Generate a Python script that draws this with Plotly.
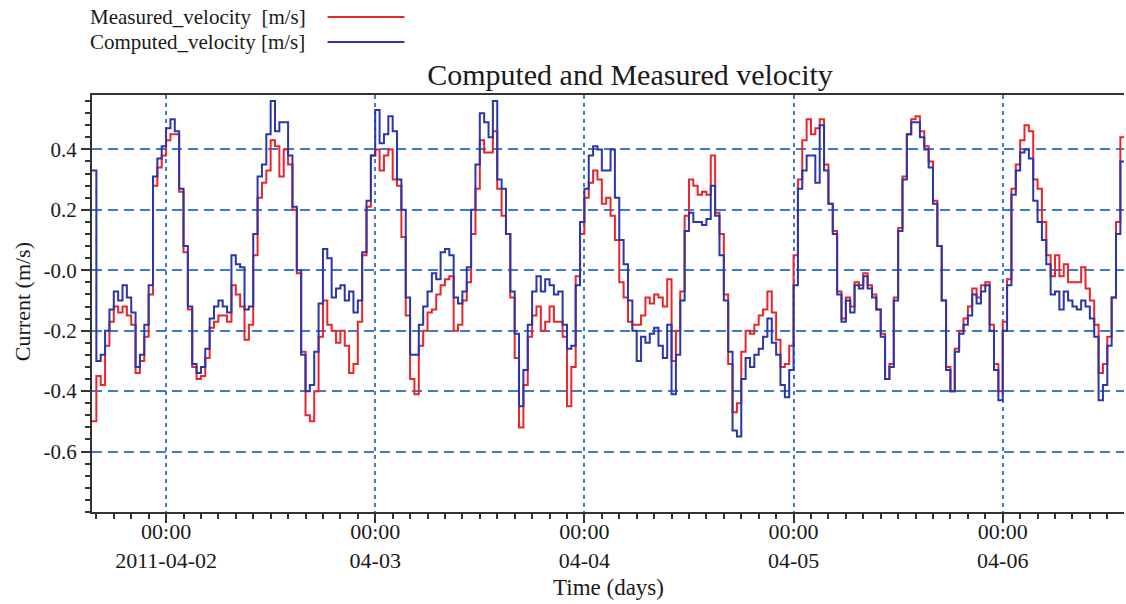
import pandas as pd
import plotly.graph_objects as go

# ---- data (30-minute samples starting 2011-04-01 15:30) ----
start_time = "2011-04-01 15:30"
n_samples = 238

computed_velocity = [
    0.33, -0.30, -0.28, -0.20, -0.13, -0.07, -0.10, -0.05, -0.09, -0.14,
    -0.32, -0.28, -0.18, -0.05, 0.31, 0.37, 0.41, 0.47, 0.50, 0.46,
    0.27, 0.08, -0.12, -0.31, -0.34, -0.32, -0.26, -0.16, -0.12, -0.10,
    -0.12, -0.14, 0.05, 0.02, 0.01, -0.13, -0.12, 0.12, 0.31, 0.35,
    0.45, 0.56, 0.46, 0.49, 0.49, 0.38, 0.21, 0.00, -0.28, -0.40,
    -0.38, -0.27, -0.11, 0.07, 0.04, -0.09, -0.06, -0.05, -0.10, -0.07,
    -0.14, -0.10, 0.06, 0.23, 0.38, 0.53, 0.42, 0.45, 0.51, 0.46,
    0.30, 0.20, -0.09, -0.28, -0.28, -0.18, -0.12, -0.07, -0.01, -0.03,
    0.06, 0.07, 0.05, -0.09, -0.11, -0.07, 0.01, 0.20, 0.35, 0.52,
    0.49, 0.44, 0.56, 0.30, 0.27, 0.12, -0.07, -0.21, -0.45, -0.33,
    -0.18, -0.07, -0.02, -0.07, -0.03, -0.05, -0.08, -0.07, -0.18, -0.26,
    -0.25, -0.05, 0.16, 0.27, 0.38, 0.41, 0.40, 0.33, 0.33, 0.40,
    0.24, 0.10, 0.02, -0.10, -0.20, -0.30, -0.22, -0.24, -0.21, -0.19,
    -0.25, -0.29, -0.18, -0.41, -0.28, -0.10, 0.13, 0.19, 0.16, 0.16,
    0.15, 0.17, 0.28, 0.18, 0.05, -0.10, -0.27, -0.53, -0.55, -0.36,
    -0.29, -0.32, -0.28, -0.26, -0.22, -0.16, -0.24, -0.28, -0.38, -0.42,
    -0.33, -0.05, 0.27, 0.33, 0.38, 0.38, 0.29, 0.48, 0.33, 0.22,
    0.12, -0.08, -0.17, -0.10, -0.14, -0.05, -0.06, -0.02, -0.06, -0.09,
    -0.13, -0.22, -0.36, -0.32, -0.10, 0.13, 0.30, 0.45, 0.49, 0.49,
    0.44, 0.40, 0.34, 0.22, 0.08, -0.10, -0.33, -0.40, -0.27, -0.21,
    -0.18, -0.15, -0.08, -0.11, -0.07, -0.05, -0.20, -0.33, -0.43, -0.20,
    -0.05, 0.25, 0.33, 0.39, 0.40, 0.37, 0.23, 0.16, 0.10, 0.02,
    -0.08, -0.07, -0.13, -0.07, -0.10, -0.12, -0.13, -0.10, -0.12, -0.16,
    -0.22, -0.43, -0.38, -0.25, -0.09, 0.12, 0.36, 0.36,
]

measured_velocity = [
    -0.50, -0.35, -0.38, -0.25, -0.17, -0.12, -0.14, -0.12, -0.15, -0.18,
    -0.34, -0.30, -0.22, -0.08, 0.28, 0.34, 0.38, 0.43, 0.45, 0.45,
    0.26, 0.06, -0.13, -0.32, -0.36, -0.35, -0.29, -0.19, -0.17, -0.15,
    -0.15, -0.17, -0.05, -0.08, -0.12, -0.23, -0.18, 0.05, 0.24, 0.29,
    0.33, 0.43, 0.41, 0.31, 0.40, 0.35, 0.20, -0.01, -0.27, -0.48,
    -0.50, -0.40, -0.22, -0.10, -0.18, -0.20, -0.24, -0.20, -0.25, -0.34,
    -0.31, -0.17, 0.05, 0.21, 0.38, 0.40, 0.33, 0.38, 0.40, 0.30,
    0.28, 0.11, -0.15, -0.36, -0.41, -0.25, -0.20, -0.14, -0.13, -0.08,
    -0.05, -0.03, -0.02, -0.20, -0.18, -0.10, -0.04, 0.12, 0.27, 0.43,
    0.39, 0.39, 0.46, 0.27, 0.18, 0.12, -0.09, -0.29, -0.52, -0.38,
    -0.22, -0.15, -0.12, -0.20, -0.17, -0.12, -0.17, -0.17, -0.22, -0.45,
    -0.32, -0.02, 0.12, 0.24, 0.29, 0.33, 0.30, 0.22, 0.24, 0.18,
    0.10, -0.04, -0.09, -0.17, -0.18, -0.18, -0.15, -0.09, -0.11, -0.08,
    -0.09, -0.12, -0.03, -0.30, -0.20, -0.07, 0.18, 0.30, 0.28, 0.25,
    0.26, 0.25, 0.38, 0.19, 0.12, -0.08, -0.31, -0.47, -0.44, -0.27,
    -0.20, -0.21, -0.18, -0.15, -0.13, -0.07, -0.14, -0.23, -0.32, -0.31,
    -0.25, 0.05, 0.30, 0.43, 0.50, 0.45, 0.47, 0.50, 0.35, 0.22,
    0.13, -0.07, -0.16, -0.09, -0.12, -0.04, -0.05, -0.01, -0.05, -0.08,
    -0.13, -0.21, -0.36, -0.31, -0.09, 0.14, 0.31, 0.45, 0.50, 0.51,
    0.46, 0.41, 0.36, 0.23, 0.08, -0.10, -0.32, -0.40, -0.26, -0.20,
    -0.16, -0.12, -0.06, -0.09, -0.05, -0.04, -0.18, -0.31, -0.40, -0.17,
    -0.03, 0.27, 0.35, 0.43, 0.48, 0.46, 0.30, 0.27, 0.16, 0.05,
    -0.02, 0.05, -0.02, 0.02, -0.04, -0.04, -0.04, 0.01, -0.06, -0.10,
    -0.18, -0.34, -0.31, -0.22, -0.09, 0.16, 0.44, 0.45,
]

x_tick_dates = ["2011-04-02", "2011-04-03", "2011-04-04", "2011-04-05", "2011-04-06"]
x_tick_labels = ["00:00<br>2011-04-02", "00:00<br>04-03", "00:00<br>04-04",
                 "00:00<br>04-05", "00:00<br>04-06"]
y_tick_vals = [-0.6, -0.4, -0.2, 0.0, 0.2, 0.4]
y_tick_labels = ["-0.6", "-0.4", "-0.2", "-0.0", "0.2", "0.4"]

x_range = ["2011-04-01 15:30", "2011-04-06 13:55"]
y_range = [-0.8, 0.58]

assert len(computed_velocity) == n_samples and len(measured_velocity) == n_samples
times = pd.date_range(start_time, periods=n_samples, freq="30min")

RED = "#e8262b"
BLUE = "#2c36a6"
GRID = "#3d7cc9"
AXIS = "#333333"
TXT = "#1a1a1a"
FONT = "Liberation Serif"

fig = go.Figure()
fig.add_trace(go.Scatter(x=times, y=measured_velocity, mode="lines",
                         name="Measured_velocity  [m/s]", line=dict(color=RED, width=2, shape="hv")))
fig.add_trace(go.Scatter(x=times, y=computed_velocity, mode="lines",
                         name="Computed_velocity [m/s]", line=dict(color=BLUE, width=2, shape="hv")))

fig.update_layout(
    width=1126, height=604,
    margin=dict(l=92, r=2, t=95, b=92),
    paper_bgcolor="white", plot_bgcolor="white",
    showlegend=False,
    font=dict(family=FONT, color=TXT, size=21),
    title=dict(text="Computed and Measured velocity", x=0.5595, xanchor="center",
               y=1 - 74 / 604, yanchor="middle", font=dict(family=FONT, size=30, color=TXT)),
)

fig.update_xaxes(
    type="date", range=x_range,
    tickmode="array", tickvals=x_tick_dates, ticktext=x_tick_labels,
    ticks="outside", ticklen=9, tickwidth=2, tickcolor=AXIS,
    ticklabelstandoff=-10,
    tickfont=dict(family=FONT, size=22, color=TXT),
    showline=True, linecolor=AXIS, linewidth=2, mirror=True,
    showgrid=True, gridcolor=GRID, gridwidth=2, griddash="4px,4px",
    zeroline=False,
    minor=dict(tickmode="linear", tick0="2011-04-02", dtick=2 * 3600 * 1000,
               ticks="outside", ticklen=5, tickwidth=1.5, tickcolor=AXIS, showgrid=False),
)
fig.update_yaxes(
    range=y_range,
    tickmode="array", tickvals=y_tick_vals, ticktext=y_tick_labels,
    ticks="outside", ticklen=9, tickwidth=2, tickcolor=AXIS,
    tickfont=dict(family=FONT, size=21, color=TXT),
    showline=True, linecolor=AXIS, linewidth=2, mirror=False,
    showgrid=True, gridcolor=GRID, gridwidth=2, griddash="10px,6px",
    zeroline=False,
    minor=dict(tickmode="linear", tick0=0, dtick=0.04,
               ticks="outside", ticklen=5, tickwidth=1.5, tickcolor=AXIS, showgrid=False),
)

# axis titles
fig.add_annotation(text="Time (days)", xref="paper", yref="paper", x=0.5, y=(512 - 587) / 417,
                   xanchor="center", yanchor="middle", showarrow=False,
                   font=dict(family=FONT, size=23, color=TXT))
fig.add_annotation(text="Current (m/s)", xref="paper", yref="paper", x=(22 - 92) / 1034,
                   y=(512 - 302) / 417, xanchor="center", yanchor="middle", textangle=-90,
                   showarrow=False, font=dict(family=FONT, size=22, color=TXT))

# custom legend (text on the left, line sample on the right)
legend_rows = [("Measured_velocity  [m/s]", RED, 17), ("Computed_velocity [m/s]", BLUE, 42)]
for label, color, ypx in legend_rows:
    yp = (512 - ypx) / 417
    fig.add_annotation(text=label, xref="paper", yref="paper", x=(88 - 92) / 1034, y=yp,
                       xanchor="left", yanchor="middle", showarrow=False,
                       font=dict(family=FONT, size=21, color=TXT))
    fig.add_shape(type="line", xref="paper", yref="paper",
                  x0=(328 - 92) / 1034, x1=(405 - 92) / 1034, y0=yp, y1=yp,
                  line=dict(color=color, width=2))

fig.write_html("out.html")
